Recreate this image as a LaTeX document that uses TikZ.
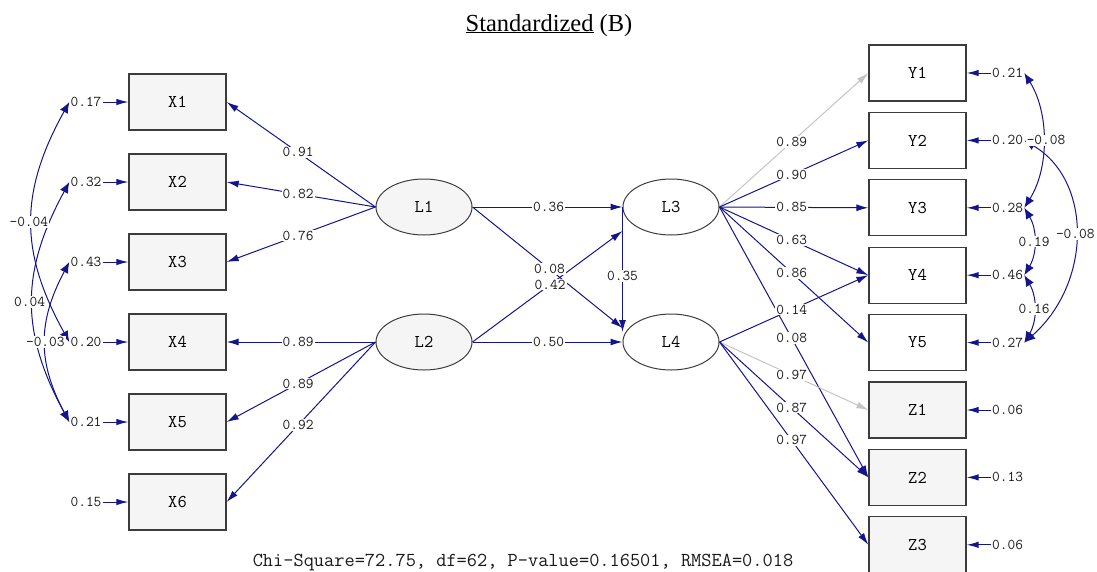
\documentclass[tikz,border=0pt]{standalone}
\usepackage{fontspec}
\newfontfamily\titlefont{Liberation Serif}
\usetikzlibrary{arrows.meta,shapes.geometric,calc}

\definecolor{pathblue}{RGB}{20,20,140}
\definecolor{fixedgray}{RGB}{196,196,196}
\definecolor{boxedge}{RGB}{60,60,60}
\definecolor{boxfill}{RGB}{245,245,245}

\tikzset{
  obs/.style={rectangle, draw=boxedge, line width=1.3pt, minimum width=97pt,
    minimum height=56pt, inner sep=0pt, font=\fontsize{18}{18}\selectfont\ttfamily},
  obsgray/.style={obs, fill=boxfill},
  obswhite/.style={obs, fill=white},
  latent/.style={ellipse, draw=boxedge, line width=1pt, minimum width=96pt,
    minimum height=56pt, inner sep=0pt, font=\fontsize{18}{18}\selectfont\ttfamily},
  coef/.style={fill=white, inner sep=1pt, text=black!90,
    font=\fontsize{15}{15}\selectfont\ttfamily},
  errlab/.style={inner sep=1pt, text=black!90, font=\fontsize{15}{15}\selectfont\ttfamily},
  load/.style={draw=pathblue, line width=1pt, -{Latex[length=12pt,width=7pt]}},
  fixedload/.style={load, draw=fixedgray},
  resid/.style={draw=pathblue, line width=1pt, -{Latex[length=12pt,width=6.5pt]}},
  cov/.style={draw=pathblue, line width=1pt,
    {Latex[length=11pt,width=9pt]}-{Latex[length=11pt,width=9pt]}},
}

\begin{document}
\begin{tikzpicture}[x=1pt,y=-1pt]
\useasboundingbox (0,0) rectangle (1097,571);

% title
\node[font=\titlefont\fontsize{24.5}{26}\selectfont, anchor=base] (title) at (549,31) {\underline{Standardized} (B)};

% exogenous indicators
\node[obsgray] (X1) at (177.5,102) {X1};
\node[obsgray] (X2) at (177.5,182) {X2};
\node[obsgray] (X3) at (177.5,262) {X3};
\node[obsgray] (X4) at (177.5,342) {X4};
\node[obsgray] (X5) at (177.5,422) {X5};
\node[obsgray] (X6) at (177.5,502) {X6};

% endogenous indicators
\node[obswhite] (Y1) at (917.5,73)    {Y1};
\node[obswhite] (Y2) at (917.5,140.4) {Y2};
\node[obswhite] (Y3) at (917.5,207.8) {Y3};
\node[obswhite] (Y4) at (917.5,275.2) {Y4};
\node[obswhite] (Y5) at (917.5,342.6) {Y5};
\node[obsgray]  (Z1) at (917.5,410)   {Z1};
\node[obsgray]  (Z2) at (917.5,477.4) {Z2};
\node[obsgray]  (Z3) at (917.5,544.8) {Z3};

% latent variables
\node[latent, fill=boxfill] (L1) at (424,207) {L1};
\node[latent, fill=boxfill] (L2) at (424,342) {L2};
\node[latent, fill=white]   (L3) at (671,207) {L3};
\node[latent, fill=white]   (L4) at (671,342) {L4};

% error variances
\foreach \n/\v in {1/0.17,2/0.32,3/0.43,4/0.20,5/0.21,6/0.15}{
  \node[errlab] (e\n) at (86,{102+80*(\n-1)}) {\v};
  \draw[resid] (e\n.east) -- (X\n.west);
}
\foreach \b/\v in {Y1/0.21,Y2/0.20,Y3/0.28,Y4/0.46,Y5/0.27,Z1/0.06,Z2/0.13,Z3/0.06}{
  \node[errlab] (f\b) at (\b.east) [xshift=41pt] {\v};
  \draw[resid] (f\b.west) -- (\b.east);
}

% measurement paths
\foreach \b in {X1,X2,X3}{ \draw[load] (L1.west) -- (\b.east); }
\foreach \b in {X4,X5,X6}{ \draw[load] (L2.west) -- (\b.east); }
\draw[fixedload] (L3.east) -- (Y1.west);
\foreach \b in {Y2,Y3,Y4,Y5,Z2}{ \draw[load] (L3.east) -- (\b.west); }
\draw[fixedload] (L4.east) -- (Z1.west);
\foreach \b in {Y4,Z2,Z3}{ \draw[load] (L4.east) -- (\b.west); }

% structural paths
\coordinate (L3in) at ([yshift=-24pt]L3.west);
\coordinate (L4inA) at ([yshift=14pt]L4.west);
\coordinate (L4inB) at ([yshift=10pt]L4.west);
\draw[load] (L1.east) -- (L3.west);
\draw[load] (L2.east) -- (L4.west);
\draw[load] (L1.east) -- (L4inA);
\draw[load] (L2.east) -- (L3in);
\draw[load] (L3.west) -- (L4inB);

% error covariances
\draw[cov] (e1.west) .. controls +(-50,90) and +(-50,-90) .. (e4.west);
\draw[cov] (e2.west) .. controls +(-49,90) and +(-49,-90) .. (e5.west);
\draw[cov] (e3.west) .. controls +(-32,60) and +(-32,-60) .. (e5.west);
\draw[cov] (fY1.east) .. controls +(25,40) and +(25,-40) .. (fY3.east);
\draw[cov] (fY2.east) .. controls +(68,40) and +(68,-60) .. (fY5.east);
\draw[cov] (fY3.east) .. controls +(13,22) and +(13,-22) .. (fY4.east);
\draw[cov] (fY4.east) .. controls +(13,22) and +(13,-22) .. (fY5.east);

% coefficient labels
\foreach \b/\v in {X1/0.91,X2/0.82,X3/0.76}{ \path (L1.west) -- (\b.east) node[coef,pos=0.52] {\v}; }
\foreach \b/\v in {X4/0.89,X5/0.89,X6/0.92}{ \path (L2.west) -- (\b.east) node[coef,pos=0.52] {\v}; }
\foreach \b/\v in {Y1/0.89,Y2/0.90,Y3/0.85,Y4/0.63,Y5/0.86,Z2/0.08}{ \path (L3.east) -- (\b.west) node[coef,pos=0.485] {\v}; }
\foreach \b/\v in {Y4/0.14,Z1/0.97,Z2/0.87,Z3/0.97}{ \path (L4.east) -- (\b.west) node[coef,pos=0.485] {\v}; }
\path (L1.east) -- (L3.west) node[coef,pos=0.507] {0.36};
\path (L2.east) -- (L4.west) node[coef,pos=0.507] {0.50};
\path (L1.east) -- (L4inA) node[coef,pos=0.513] {0.08};
\path (L2.east) -- (L3in) node[coef,pos=0.517] {0.42};
\path (L3.west) -- (L4inB) node[coef,pos=0.55] {0.35};

\path (e1.west) .. controls +(-50,90) and +(-50,-90) .. (e4.west) node[coef,pos=0.5,xshift=-3pt] {-0.04};
\path (e2.west) .. controls +(-49,90) and +(-49,-90) .. (e5.west) node[coef,pos=0.5,xshift=-3pt] {0.04};
\path (e3.west) .. controls +(-32,60) and +(-32,-60) .. (e5.west) node[coef,pos=0.5] {-0.03};
\path (fY1.east) .. controls +(25,40) and +(25,-40) .. (fY3.east) node[coef,pos=0.5,xshift=3pt] {-0.08};
\path (fY2.east) .. controls +(68,40) and +(68,-60) .. (fY5.east) node[coef,pos=0.5] {-0.08};
\path (fY3.east) .. controls +(13,22) and +(13,-22) .. (fY4.east) node[coef,pos=0.5] {0.19};
\path (fY4.east) .. controls +(13,22) and +(13,-22) .. (fY5.east) node[coef,pos=0.5] {0.16};

% fit statistics
\node[font=\fontsize{19.8}{20}\selectfont\ttfamily, text=black!90] (fit) at (523,562)
  {Chi-Square=72.75, df=62, P-value=0.16501, RMSEA=0.018};
\end{tikzpicture}
\end{document}
